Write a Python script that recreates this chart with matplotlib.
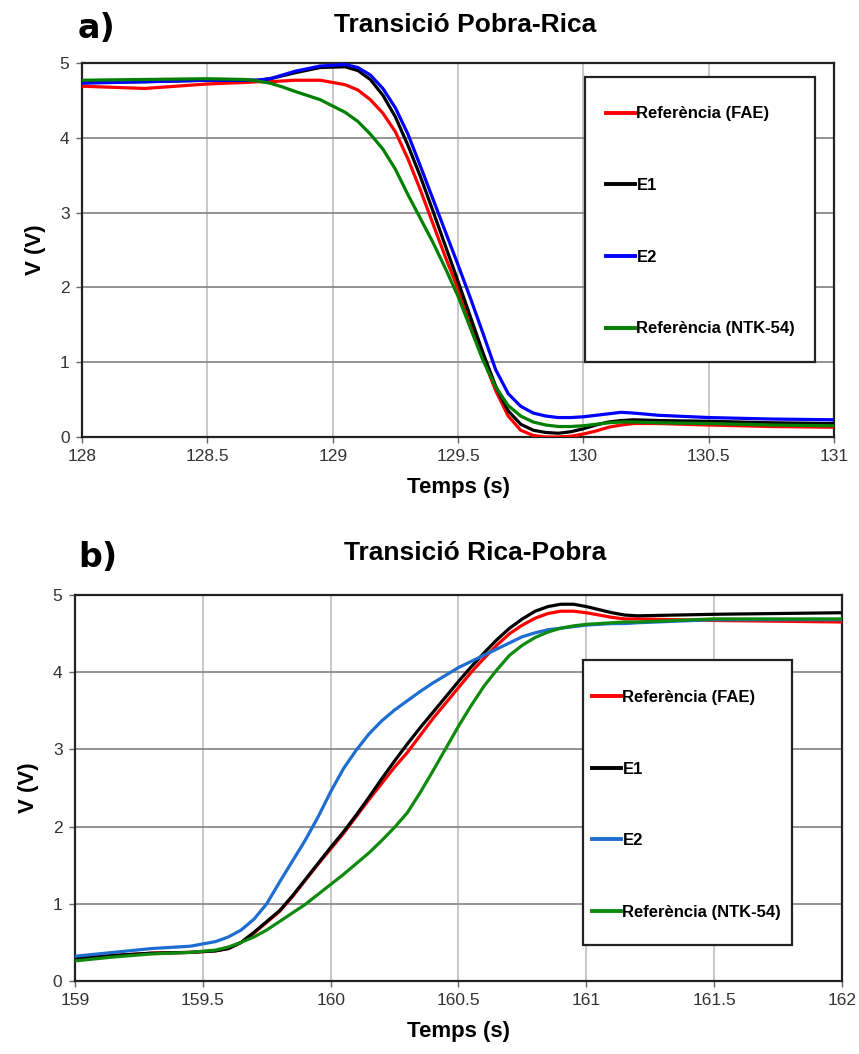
import numpy as np
import matplotlib.pyplot as plt
from matplotlib.patches import Rectangle
from matplotlib.lines import Line2D

# ---------- données : a) transició pobra-rica ----------
t_a = [128.0, 128.25, 128.5, 128.65, 128.7, 128.75, 128.8, 128.85, 128.95, 129.05,
       129.1, 129.15, 129.2, 129.25, 129.3, 129.35, 129.4, 129.45, 129.5, 129.55,
       129.6, 129.65, 129.7, 129.75, 129.8, 129.85, 129.9, 129.95, 130.0, 130.05,
       130.1, 130.15, 130.2, 130.3, 130.5, 130.75, 131.0]
fae_a = [4.69, 4.66, 4.72, 4.74, 4.75, 4.75, 4.76, 4.77, 4.77, 4.71,
         4.64, 4.51, 4.33, 4.08, 3.72, 3.30, 2.85, 2.40, 1.98, 1.52,
         1.05, 0.62, 0.28, 0.09, 0.02, 0.00, 0.00, 0.01, 0.04, 0.08,
         0.13, 0.16, 0.18, 0.18, 0.16, 0.14, 0.13]
e1_a = [4.74, 4.75, 4.77, 4.77, 4.77, 4.79, 4.83, 4.87, 4.94, 4.95,
        4.90, 4.78, 4.57, 4.28, 3.90, 3.48, 3.02, 2.55, 2.08, 1.60,
        1.12, 0.68, 0.35, 0.17, 0.09, 0.06, 0.05, 0.07, 0.11, 0.16,
        0.20, 0.22, 0.23, 0.22, 0.21, 0.19, 0.18]
e2_a = [4.73, 4.75, 4.77, 4.77, 4.77, 4.79, 4.84, 4.89, 4.96, 4.98,
        4.94, 4.84, 4.66, 4.40, 4.05, 3.62, 3.18, 2.74, 2.30, 1.85,
        1.38, 0.90, 0.58, 0.41, 0.32, 0.28, 0.26, 0.26, 0.27, 0.29,
        0.31, 0.33, 0.32, 0.29, 0.26, 0.24, 0.23]
ntk_a = [4.77, 4.78, 4.79, 4.78, 4.76, 4.73, 4.68, 4.62, 4.51, 4.34,
         4.22, 4.05, 3.85, 3.58, 3.24, 2.92, 2.60, 2.25, 1.88, 1.45,
         1.02, 0.67, 0.42, 0.28, 0.20, 0.16, 0.14, 0.14, 0.15, 0.17,
         0.19, 0.20, 0.20, 0.19, 0.18, 0.16, 0.15]

# ---------- données : b) transició rica-pobra ----------
t_b = [159.0, 159.15, 159.3, 159.45, 159.55, 159.6, 159.65, 159.7, 159.75, 159.8,
       159.85, 159.9, 159.95, 160.0, 160.05, 160.1, 160.15, 160.2, 160.25, 160.3,
       160.35, 160.4, 160.45, 160.5, 160.55, 160.6, 160.65, 160.7, 160.75, 160.8,
       160.85, 160.9, 160.95, 161.0, 161.05, 161.1, 161.15, 161.2, 161.35, 161.5,
       161.75, 162.0]
fae_b = [0.29, 0.33, 0.36, 0.37, 0.39, 0.42, 0.50, 0.62, 0.76, 0.90,
         1.09, 1.30, 1.51, 1.71, 1.91, 2.13, 2.35, 2.56, 2.77, 2.96,
         3.18, 3.40, 3.60, 3.80, 4.00, 4.18, 4.35, 4.50, 4.61, 4.70,
         4.76, 4.79, 4.79, 4.77, 4.74, 4.71, 4.69, 4.69, 4.68, 4.67,
         4.66, 4.65]
e1_b = [0.29, 0.33, 0.36, 0.37, 0.39, 0.42, 0.50, 0.63, 0.77, 0.91,
        1.10, 1.31, 1.52, 1.73, 1.93, 2.15, 2.38, 2.62, 2.85, 3.07,
        3.28, 3.48, 3.68, 3.88, 4.07, 4.25, 4.42, 4.57, 4.69, 4.79,
        4.85, 4.88, 4.88, 4.85, 4.81, 4.77, 4.74, 4.73, 4.74, 4.75,
        4.76, 4.77]
e2_b = [0.32, 0.37, 0.42, 0.45, 0.51, 0.57, 0.66, 0.80, 1.00, 1.28,
        1.55, 1.82, 2.12, 2.45, 2.75, 2.99, 3.20, 3.37, 3.51, 3.63,
        3.75, 3.86, 3.96, 4.06, 4.14, 4.22, 4.30, 4.38, 4.46, 4.51,
        4.55, 4.57, 4.59, 4.61, 4.62, 4.63, 4.63, 4.64, 4.66, 4.68,
        4.68, 4.68]
ntk_b = [0.26, 0.31, 0.35, 0.37, 0.40, 0.44, 0.50, 0.57, 0.66, 0.77,
         0.88, 0.99, 1.12, 1.25, 1.38, 1.52, 1.66, 1.82, 1.99, 2.18,
         2.44, 2.72, 3.01, 3.30, 3.57, 3.82, 4.03, 4.22, 4.35, 4.45,
         4.52, 4.57, 4.60, 4.62, 4.63, 4.64, 4.65, 4.65, 4.67, 4.69,
         4.69, 4.69]

labels = ["Referència (FAE)", "E1", "E2", "Referència (NTK-54)"]

FONT = "Liberation Sans"
plt.rcParams['font.family'] = [FONT, 'DejaVu Sans']

fig = plt.figure(figsize=(8.59, 10.54), dpi=100)


def draw(ax, t, series, colors, xlim, xticks, box, hx, cy):
    for y, c, lab in zip(series, colors, labels):
        ax.plot(t, y, color=c, lw=2.3, label=lab, zorder=3,
                solid_capstyle='round', solid_joinstyle='round')
    ax.set_xlim(*xlim)
    ax.set_ylim(0, 5)
    ax.set_xticks(xticks)
    ax.set_xticklabels([f"{v:g}" for v in xticks])
    ax.set_yticks(range(6))
    ax.xaxis.grid(True, color='#c4c4c4', lw=1.3)
    ax.yaxis.grid(True, color='#8a8a8a', lw=1.3)
    ax.set_axisbelow(True)
    for s in ax.spines.values():
        s.set_color('#222222')
        s.set_linewidth(1.6)
    ax.tick_params(direction='out', length=4, width=1, color='#666666',
                   labelsize=12.5, labelcolor='#333333', pad=5)
    ax.set_xlabel("Temps (s)", fontsize=16, fontweight='bold', labelpad=9)
    ax.set_ylabel("V (V)", fontsize=16, fontweight='bold', labelpad=10)

    # cadre de la légende
    x0, y0, x1, y1 = box
    ax.add_patch(Rectangle((x0, y0), x1 - x0, y1 - y0, transform=ax.transAxes,
                           facecolor='white', edgecolor='#222222', lw=1.6, zorder=4))
    handles = [Line2D([], [], color=c, lw=2.8) for c in colors]
    leg = ax.legend(handles, labels, loc='center left', bbox_to_anchor=(hx, cy),
                    bbox_transform=ax.transAxes, frameon=False, borderpad=0,
                    handlelength=1.7, handletextpad=0.1, labelspacing=3.4,
                    prop={'family': FONT, 'weight': 'bold', 'size': 12})
    leg.set_zorder(5)


ax1 = fig.add_axes([0.0955, 0.5854, 0.8755, 0.3548])
draw(ax1, t_a, [fae_a, e1_a, e2_a, ntk_a], ['#ff0000', '#000000', '#0000ff', '#008000'],
     (128, 131), [128, 128.5, 129, 129.5, 130, 130.5, 131],
     (0.669, 0.2005, 0.975, 0.9626), 0.6862, 0.5763)

ax2 = fig.add_axes([0.0873, 0.0693, 0.8929, 0.3662])
draw(ax2, t_b, [fae_b, e1_b, e2_b, ntk_b], ['#ff0000', '#000000', '#1e6ed2', '#0f8a0f'],
     (159, 162), [159, 159.5, 160, 160.5, 161, 161.5, 162],
     (0.6623, 0.0933, 0.9348, 0.8316), 0.6637, 0.4559)

fig.text(0.5413, 0.9696, "Transició Pobra-Rica", ha='center', va='baseline',
         fontsize=19, fontweight='bold')
fig.text(0.553, 0.4687, "Transició Rica-Pobra", ha='center', va='baseline',
         fontsize=19, fontweight='bold')
fig.text(0.0908, 0.964, "a)", ha='left', va='baseline', fontsize=24,
         fontweight='bold', family='DejaVu Sans')
fig.text(0.0908, 0.462, "b)", ha='left', va='baseline', fontsize=24,
         fontweight='bold', family='DejaVu Sans')

fig.savefig("out.png", dpi=100)
